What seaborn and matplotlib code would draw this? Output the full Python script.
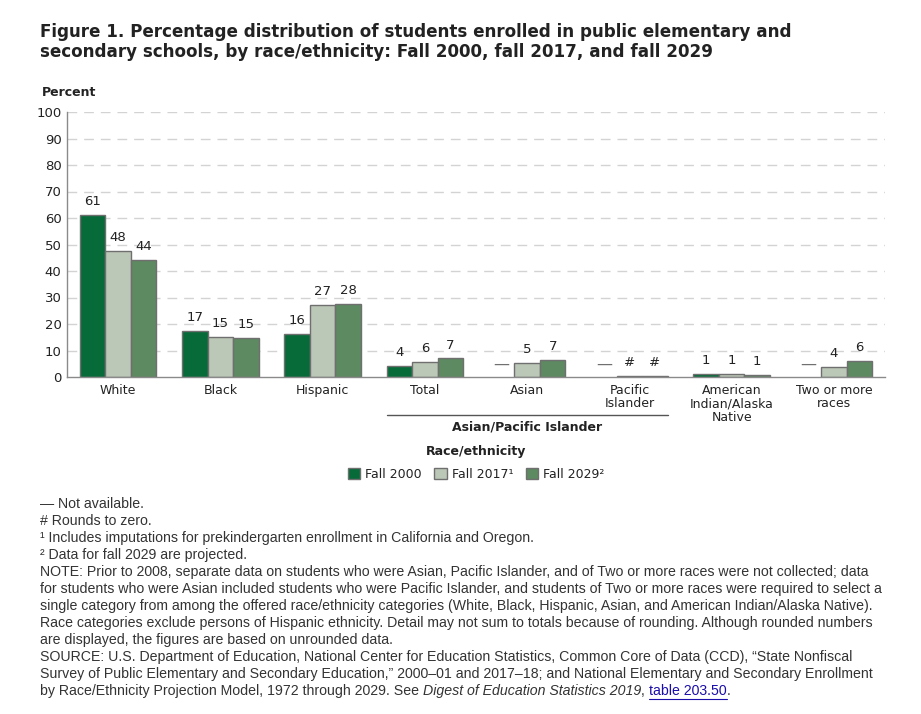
import numpy as np
import pandas as pd
import matplotlib
matplotlib.use("Agg")
import matplotlib.pyplot as plt
import seaborn as sns
from matplotlib.patches import Patch
from matplotlib.lines import Line2D

categories = ["White", "Black", "Hispanic", "Total", "Asian", "Pacific\nIslander",
              "American\nIndian/Alaska\nNative", "Two or more\nraces"]
series = ["Fall 2000", "Fall 2017\u00b9", "Fall 2029\u00b2"]
fall2000 = [61.2, 17.2, 16.3, 4.1, np.nan, np.nan, 1.2, np.nan]
fall2017 = [47.6, 15.2, 27.2, 5.6, 5.2, 0.4, 1.0, 3.9]
fall2029 = [44.0, 14.8, 27.6, 7.0, 6.6, 0.4, 0.9, 5.9]
yticks = [0, 10, 20, 30, 40, 50, 60, 70, 80, 90, 100]
colors = ["#066a39", "#bbc7b7", "#5d8a61"]

sns.set_theme(style="white")
plt.rcParams["font.family"] = ["DejaVu Sans"]

W, H = 921, 714
fig = plt.figure(figsize=(W / 100, H / 100), dpi=100)
ax = fig.add_axes([67 / W, 1 - 377 / H, (885 - 67) / W, (377 - 112) / H])

rows = []
for s, vals in zip(series, [fall2000, fall2017, fall2029]):
    for c, v in zip(categories, vals):
        rows.append({"cat": c, "series": s, "value": v})
df = pd.DataFrame(rows)

BW = 0.75
sns.barplot(data=df, x="cat", y="value", hue="series", order=categories,
            hue_order=series, palette=colors, saturation=1, width=BW, gap=0,
            edgecolor="#6f6f6f", linewidth=1, errorbar=None, ax=ax, legend=False)

ax.set_xlim(-0.5, len(categories) - 0.5)
ax.set_ylim(0, 100)
ax.set_yticks(yticks)
ax.set_yticklabels([str(t) for t in yticks], fontsize=9.5, color="#222222")
ax.set_xlabel("")
ax.set_ylabel("")
ax.tick_params(axis="x", length=0, pad=5, labelsize=9, labelcolor="#222222")
ax.tick_params(axis="y", length=0, pad=4)
for lab in ax.get_xticklabels():
    lab.set_linespacing(1.05)
for y in yticks[1:]:
    ax.axhline(y, color="#d3d3d3", lw=1, ls=(0, (7, 5)), zorder=0)
for side in ["top", "right"]:
    ax.spines[side].set_visible(False)
for side in ["left", "bottom"]:
    ax.spines[side].set_color("#8a8a8a")
    ax.spines[side].set_linewidth(1)

# value labels (positions from category index and hue offset)
nh = len(series)
for j, vals in enumerate([fall2000, fall2017, fall2029]):
    for i, v in enumerate(vals):
        x = i + (j - (nh - 1) / 2) * BW / nh
        if np.isnan(v):
            ax.annotate("\u2014", (x, 0), xytext=(0, 4), textcoords="offset points",
                        ha="center", va="bottom", fontsize=11.5,
                        color="#707070")
        else:
            r = int(round(v))
            txt = "#" if r == 0 else str(r)
            ax.annotate(txt, (x, v), xytext=(0, 5), textcoords="offset points",
                        ha="center", va="bottom", fontsize=9.5, color="#222222")

# bracket for Asian/Pacific Islander
bx0 = 3 - BW / 2
bx1 = 5 + BW / 2
trans = ax.get_xaxis_transform()
yb = (377 - 415) / (377 - 112)
ax.plot([bx0, bx1], [yb, yb], transform=trans, color="#555555", lw=1, clip_on=False)
ax.text((bx0 + bx1) / 2, (377 - 427) / (377 - 112), "Asian/Pacific Islander",
        transform=trans, ha="center", va="center", fontsize=9, fontweight="bold",
        color="#222222")

fig.text(476 / W, 1 - 451 / H, "Race/ethnicity", ha="center", va="center",
         fontsize=9, fontweight="bold", color="#222222")
fig.text(42 / W, 1 - 93 / H, "Percent", ha="left", va="center",
         fontsize=9, fontweight="bold", color="#222222")

handles = [Patch(facecolor=c, edgecolor="#6f6f6f", linewidth=1) for c in colors]
fig.legend(handles, series, loc="center", bbox_to_anchor=(476 / W, 1 - 474 / H),
           ncol=3, frameon=False, fontsize=9, handlelength=1.0, handleheight=1.0,
           handletextpad=0.4, columnspacing=1.0, labelcolor="#222222")

fig.text(40 / W, 1 - 32 / H,
         "Figure 1. Percentage distribution of students enrolled in public elementary and",
         ha="left", va="center", fontsize=12.1, fontweight="bold", color="#222222")
fig.text(40 / W, 1 - 52 / H,
         "secondary schools, by race/ethnicity: Fall 2000, fall 2017, and fall 2029",
         ha="left", va="center", fontsize=12.1, fontweight="bold", color="#222222")

notes = [
    "\u2014 Not available.",
    "# Rounds to zero.",
    "\u00b9 Includes imputations for prekindergarten enrollment in California and Oregon.",
    "\u00b2 Data for fall 2029 are projected.",
    "NOTE: Prior to 2008, separate data on students who were Asian, Pacific Islander, and of Two or more races were not collected; data",
    "for students who were Asian included students who were Pacific Islander, and students of Two or more races were required to select a",
    "single category from among the offered race/ethnicity categories (White, Black, Hispanic, Asian, and American Indian/Alaska Native).",
    "Race categories exclude persons of Hispanic ethnicity. Detail may not sum to totals because of rounding. Although rounded numbers",
    "are displayed, the figures are based on unrounded data.",
    "SOURCE: U.S. Department of Education, National Center for Education Statistics, Common Core of Data (CCD), \u201cState Nonfiscal",
    "Survey of Public Elementary and Secondary Education,\u201d 2000\u201301 and 2017\u201318; and National Elementary and Secondary Enrollment",
]
nfont = dict(fontsize=10.2, color="#333333", family="Liberation Sans", va="center", ha="left")
for i, line in enumerate(notes):
    fig.text(40 / W, 1 - (504 + 17 * i) / H, line, **nfont)

# last line with italic and link
ylast = 1 - (504 + 17 * len(notes)) / H
renderer = fig.canvas.get_renderer()
pieces = [("by Race/Ethnicity Projection Model, 1972 through 2029. See ", "normal", "#333333"),
          ("Digest of Education Statistics 2019", "italic", "#333333"),
          (", ", "normal", "#333333"),
          ("table 203.50", "normal", "#1a0dab"),
          (".", "normal", "#333333")]
xpx = 40
for txt, style, col in pieces:
    kw = dict(nfont)
    kw["color"] = col
    t = fig.text(xpx / W, ylast, txt, style=style, **kw)
    bb = t.get_window_extent(renderer=renderer)
    if txt.startswith("table"):
        fig.add_artist(Line2D([xpx / W, (xpx + bb.width) / W],
                              [ylast - 8 / H, ylast - 8 / H],
                              transform=fig.transFigure, color=col, lw=0.8))
    xpx += bb.width

fig.savefig("out.png", dpi=100)
